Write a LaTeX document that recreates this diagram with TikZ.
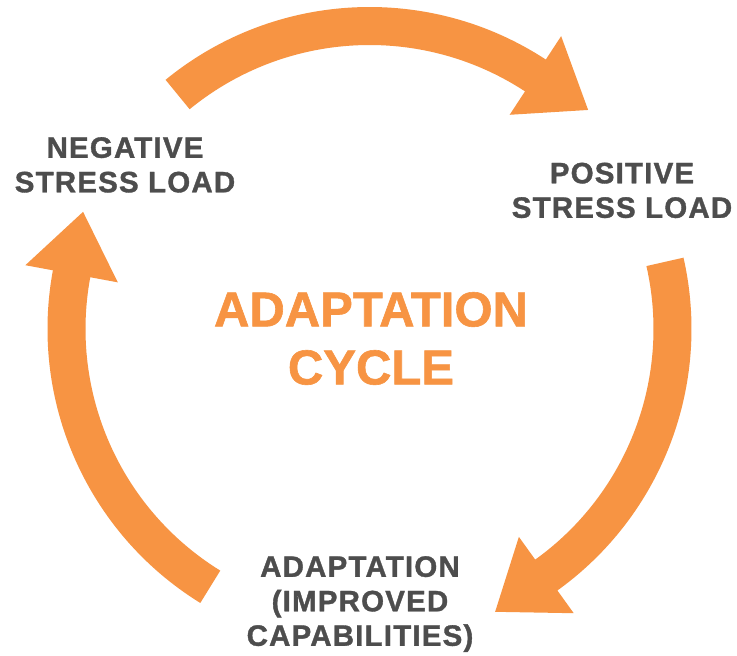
\documentclass[tikz,border=0pt]{standalone}
\usepackage{fontspec}
\setmainfont{Liberation Sans}[BoldFeatures={FakeBold=1.2}]
\newfontfamily\lblfont{Liberation Sans}[LetterSpace=4, BoldFeatures={FakeBold=1.2}]
\usetikzlibrary{calc}
\definecolor{cycorange}{HTML}{F79443}
\definecolor{cycgray}{HTML}{4D4D4D}
\tikzset{
  arrowfill/.style={fill=cycorange, draw=none},
  lbl/.style={font=\lblfont\bfseries\fontsize{29.5}{34.5}\selectfont, text=cycgray, align=center, inner sep=0pt, anchor=north},
  title/.style={font=\bfseries\fontsize{49}{58}\selectfont, text=cycorange, align=center, inner sep=0pt, anchor=north}
}
\begin{document}
\begin{tikzpicture}[x=1pt,y=1pt]
\useasboundingbox (0,0) rectangle (737,656);
\fill[white] (0,0) rectangle (737,656);
\begin{scope}[shift={(369.5,327)}]
  \foreach \a/\b [count=\i] in {129.3/56.8, 12.8/-54.3, 238.3/169.5}{
    \fill[arrowfill] (\a:322) arc[start angle=\a, end angle=\b, radius=322]
      -- (\b:350) -- ($(\b:303)+(\b-90:63)$) -- (\b:256) -- (\b:284)
      arc[start angle=\b, end angle=\a, radius=284] -- cycle;
  }
\end{scope}
\node[lbl] (neg) at (125,519) {NEGATIVE\\STRESS LOAD};
\node[lbl] (pos) at (622,493.5) {POSITIVE\\STRESS LOAD};
\node[lbl] (adp) at (360,100) {ADAPTATION\\(IMPROVED\\CAPABILITIES)};
\node[title] (cyc) at (371,364) {ADAPTATION\\CYCLE};
\end{tikzpicture}
\end{document}
